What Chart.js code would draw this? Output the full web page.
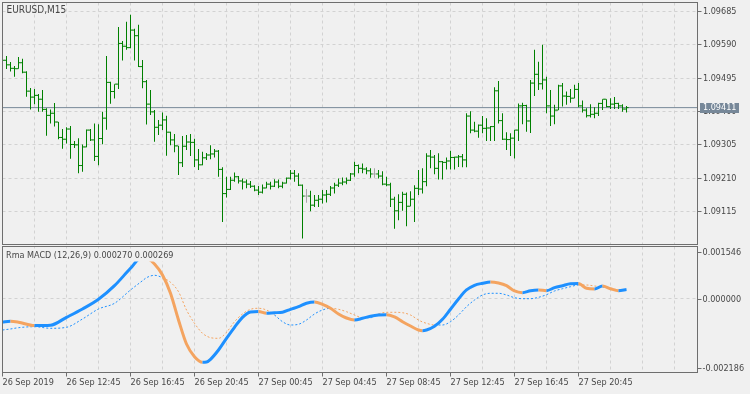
<!DOCTYPE html>
<html><head><meta charset="utf-8">
<script src="https://cdn.jsdelivr.net/npm/chart.js@4.4.1/dist/chart.umd.min.js"></script>
<style>
html,body{margin:0;padding:0;background:#f0f0f0;}
#wrap{position:relative;width:750px;height:394px;overflow:hidden;background:#f0f0f0;}
canvas{position:absolute;left:0;}
#c1{top:0}
#c2{top:245px}
</style></head><body>
<div id="wrap"><canvas id="c1" width="750" height="245"></canvas><canvas id="c2" width="750" height="149"></canvas></div>
<script>
// ---------- data ----------
const symbolTitle = 'EURUSD,M15';
const indicatorName = 'Rma MACD (12,26,9)';
const timeLabels = ['26 Sep 2019','26 Sep 12:45','26 Sep 16:45','26 Sep 20:45','27 Sep 00:45','27 Sep 04:45','27 Sep 08:45','27 Sep 12:45','27 Sep 16:45','27 Sep 20:45'];
const priceTicks = [1.09115, 1.09210, 1.09305, 1.09400, 1.09495, 1.09590, 1.09685];
const macdAxisTicks = [0.001546, 0.000000, -0.002186];

const opens = [1.09553,1.09546,1.09533,1.09523,1.09522,1.09539,1.09512,1.09458,1.09441,1.09446,
1.09435,1.09406,1.09389,1.09395,1.09370,1.09326,1.09321,1.09350,1.09306,1.09305,
1.09246,1.09299,1.09347,1.09319,1.09272,1.09323,1.09381,1.09483,1.09457,1.09478,
1.09594,1.09586,1.09582,1.09632,1.09616,1.09528,1.09485,1.09421,1.09399,1.09355,
1.09361,1.09376,1.09341,1.09319,1.09302,1.09254,1.09301,1.09313,1.09312,1.09262,
1.09248,1.09268,1.09276,1.09279,1.09287,1.09235,1.09166,1.09178,1.09204,1.09214,
1.09202,1.09199,1.09193,1.09187,1.09176,1.09170,1.09182,1.09193,1.09187,1.09199,
1.09187,1.09196,1.09210,1.09224,1.09216,1.09190,1.09159,1.09159,1.09133,1.09147,
1.09150,1.09162,1.09164,1.09182,1.09190,1.09196,1.09199,1.09204,1.09222,1.09246,
1.09238,1.09236,1.09231,1.09222,1.09222,1.09216,1.09193,1.09191,1.09150,1.09117,
1.09141,1.09164,1.09130,1.09150,1.09181,1.09179,1.09200,1.09273,1.09270,1.09238,
1.09257,1.09255,1.09259,1.09269,1.09270,1.09271,1.09262,1.09387,1.09347,1.09344,
1.09361,1.09352,1.09353,1.09357,1.09459,1.09374,1.09321,1.09320,1.09324,1.09347,
1.09416,1.09417,1.09373,1.09481,1.09506,1.09479,1.09490,1.09416,1.09387,1.09404,
1.09473,1.09444,1.09443,1.09438,1.09463,1.09416,1.09404,1.09388,1.09392,1.09395,
1.09423,1.09435,1.09414,1.09421,1.09423,1.09416,1.09407];

const highs = [1.09561,1.09558,1.09541,1.09530,1.09555,1.09550,1.09515,1.09467,1.09464,1.09450,
1.09461,1.09409,1.09406,1.09424,1.09370,1.09350,1.09355,1.09359,1.09316,1.09324,
1.09306,1.09349,1.09350,1.09366,1.09364,1.09399,1.09558,1.09485,1.09478,1.09641,
1.09601,1.09656,1.09676,1.09636,1.09647,1.09547,1.09490,1.09461,1.09404,1.09376,
1.09397,1.09388,1.09342,1.09336,1.09302,1.09330,1.09333,1.09336,1.09322,1.09293,
1.09285,1.09282,1.09304,1.09293,1.09290,1.09241,1.09214,1.09214,1.09226,1.09216,
1.09209,1.09206,1.09202,1.09190,1.09188,1.09192,1.09200,1.09200,1.09207,1.09206,
1.09200,1.09212,1.09233,1.09233,1.09224,1.09192,1.09179,1.09174,1.09162,1.09162,
1.09176,1.09176,1.09188,1.09197,1.09209,1.09212,1.09212,1.09225,1.09257,1.09249,
1.09252,1.09241,1.09238,1.09238,1.09233,1.09230,1.09214,1.09197,1.09157,1.09164,
1.09171,1.09169,1.09173,1.09190,1.09233,1.09238,1.09281,1.09290,1.09276,1.09281,
1.09259,1.09269,1.09288,1.09271,1.09276,1.09279,1.09395,1.09401,1.09371,1.09363,
1.09387,1.09381,1.09359,1.09469,1.09487,1.09395,1.09341,1.09338,1.09347,1.09423,
1.09425,1.09419,1.09490,1.09576,1.09542,1.09590,1.09499,1.09461,1.09419,1.09476,
1.09481,1.09457,1.09464,1.09476,1.09481,1.09431,1.09409,1.09421,1.09412,1.09425,
1.09435,1.09435,1.09438,1.09441,1.09425,1.09421,1.09416];

const lows = [1.09539,1.09521,1.09514,1.09499,1.09522,1.09509,1.09442,1.09406,1.09421,1.09399,
1.09399,1.09331,1.09366,1.09357,1.09321,1.09294,1.09309,1.09265,1.09296,1.09224,
1.09228,1.09298,1.09316,1.09259,1.09247,1.09307,1.09348,1.09422,1.09437,1.09464,
1.09545,1.09576,1.09580,1.09545,1.09527,1.09466,1.09363,1.09390,1.09314,1.09333,
1.09347,1.09274,1.09304,1.09284,1.09219,1.09242,1.09290,1.09273,1.09242,1.09233,
1.09247,1.09262,1.09264,1.09269,1.09214,1.09085,1.09155,1.09176,1.09200,1.09195,
1.09178,1.09181,1.09182,1.09173,1.09162,1.09166,1.09181,1.09178,1.09185,1.09181,
1.09181,1.09195,1.09206,1.09200,1.09188,1.09038,1.09140,1.09116,1.09128,1.09128,
1.09138,1.09141,1.09159,1.09166,1.09185,1.09190,1.09193,1.09202,1.09214,1.09224,
1.09224,1.09221,1.09211,1.09211,1.09209,1.09190,1.09187,1.09128,1.09066,1.09090,
1.09117,1.09073,1.09130,1.09085,1.09162,1.09166,1.09187,1.09238,1.09221,1.09206,
1.09206,1.09235,1.09235,1.09235,1.09242,1.09241,1.09241,1.09338,1.09341,1.09325,
1.09338,1.09316,1.09316,1.09316,1.09366,1.09319,1.09290,1.09273,1.09266,1.09316,
1.09364,1.09342,1.09339,1.09444,1.09461,1.09463,1.09395,1.09359,1.09364,1.09404,
1.09414,1.09419,1.09425,1.09438,1.09412,1.09397,1.09383,1.09383,1.09381,1.09387,
1.09404,1.09412,1.09407,1.09407,1.09407,1.09399,1.09397];

const closes = [1.09546,1.09533,1.09523,1.09522,1.09539,1.09512,1.09458,1.09441,1.09446,1.09435,
1.09406,1.09389,1.09395,1.09370,1.09326,1.09321,1.09350,1.09306,1.09305,1.09246,
1.09299,1.09347,1.09319,1.09272,1.09323,1.09381,1.09483,1.09457,1.09478,1.09594,
1.09586,1.09582,1.09632,1.09616,1.09528,1.09485,1.09421,1.09399,1.09355,1.09361,
1.09376,1.09341,1.09319,1.09302,1.09254,1.09301,1.09313,1.09312,1.09262,1.09248,
1.09268,1.09276,1.09279,1.09287,1.09235,1.09166,1.09178,1.09204,1.09214,1.09202,
1.09199,1.09193,1.09187,1.09176,1.09170,1.09182,1.09193,1.09187,1.09199,1.09187,
1.09196,1.09210,1.09224,1.09216,1.09190,1.09159,1.09159,1.09133,1.09147,1.09150,
1.09162,1.09164,1.09182,1.09190,1.09196,1.09199,1.09204,1.09222,1.09246,1.09238,
1.09236,1.09231,1.09222,1.09222,1.09216,1.09193,1.09191,1.09150,1.09117,1.09141,
1.09164,1.09130,1.09150,1.09181,1.09179,1.09200,1.09273,1.09270,1.09238,1.09257,
1.09255,1.09259,1.09269,1.09270,1.09271,1.09262,1.09387,1.09347,1.09344,1.09361,
1.09352,1.09353,1.09357,1.09459,1.09374,1.09321,1.09320,1.09324,1.09347,1.09416,
1.09417,1.09373,1.09481,1.09506,1.09479,1.09490,1.09416,1.09387,1.09404,1.09473,
1.09444,1.09443,1.09438,1.09463,1.09416,1.09404,1.09388,1.09392,1.09395,1.09423,
1.09435,1.09414,1.09421,1.09423,1.09416,1.09407,1.09411];

// MACD / signal read at these bar indices
const macdBars = [0,2,4,8,12,16,20,24,28,32,35,36,38,40,42,44,46,48,50,51,52,54,56,58,60,62,64,66,68,70,72,74,76,78,80,82,84,86,88,90,92,94,96,98,100,102,104,105,106,108,110,112,114,116,118,120,122,124,126,128,130,132,134,136,138,140,142,144,146,148,150,152,154,156];
const macdValues = [-0.000690,-0.000669,-0.000696,-0.000794,-0.000785,-0.000551,-0.000305,-0.000018,0.000385,0.000900,
0.001244,0.001214,0.001028,0.000702,0.000160,-0.000631,-0.001342,-0.001718,-0.001885,-0.001878,
-0.001795,-0.001520,-0.001173,-0.000847,-0.000551,-0.000394,-0.000380,-0.000430,-0.000415,-0.000400,
-0.000314,-0.000237,-0.000136,-0.000098,-0.000166,-0.000284,-0.000453,-0.000572,-0.000631,-0.000581,
-0.000521,-0.000483,-0.000474,-0.000542,-0.000681,-0.000809,-0.000927,-0.000948,-0.000927,-0.000818,
-0.000610,-0.000314,-0.000009,0.000258,0.000397,0.000456,0.000495,0.000465,0.000385,0.000228,
0.000178,0.000237,0.000258,0.000237,0.000326,0.000385,0.000440,0.000448,0.000308,0.000287,
0.000376,0.000296,0.000237,0.000270];
const signalValues = [-0.000927,-0.000897,-0.000859,-0.000829,-0.000877,-0.000847,-0.000601,-0.000305,-0.000136,0.000258,
0.000533,0.000622,0.000693,0.000622,0.000486,0.000207,-0.000335,-0.000729,-0.001025,-0.001105,
-0.001155,-0.001173,-0.000995,-0.000681,-0.000453,-0.000314,-0.000284,-0.000335,-0.000483,-0.000681,
-0.000779,-0.000758,-0.000631,-0.000453,-0.000335,-0.000284,-0.000314,-0.000385,-0.000483,-0.000563,
-0.000563,-0.000453,-0.000403,-0.000403,-0.000415,-0.000483,-0.000631,-0.000690,-0.000729,-0.000779,
-0.000779,-0.000681,-0.000483,-0.000237,-0.000039,0.000110,0.000160,0.000160,0.000110,0.000030,
0.000000,0.000000,0.000041,0.000118,0.000228,0.000296,0.000355,0.000406,0.000406,0.000376,
0.000347,0.000308,0.000267,0.000269];

// ---------- styling ----------
const FONT = '"DejaVu Sans Condensed","DejaVu Sans",sans-serif';
const TXT = '#474747', FRAME = '#6e6e6e', GRID = '#d2d2d2', BG = '#f0f0f0';
const GREEN = '#008000', DOJI = '#a8a8a8', BLUE = '#1e90ff', ORANGE = '#f4a460', BID = '#778899';
Chart.defaults.font.family = FONT;
Chart.defaults.font.size = 9;
Chart.defaults.color = TXT;

const X_MAX = 173.75;            // visible bar slots incl. right shift
const gridBars = [];
for (let b = 0; b <= 168; b += 8) gridBars.push(b);
const lastClose = closes[closes.length - 1];
const barColor = i => (opens[i] === closes[i] ? DOJI : GREEN);
const noPad = s => { s.paddingTop = 0; s.paddingBottom = 0; s.paddingLeft = 0; s.paddingRight = 0; };

function drawFrame(chart) {
  const {ctx, chartArea: a} = chart;
  ctx.save();
  ctx.strokeStyle = FRAME; ctx.lineWidth = 1;
  ctx.strokeRect(a.left, a.top, a.right - a.left, a.bottom - a.top);
  ctx.restore();
}

const topPlugin = {
  id: 'topDeco',
  afterDraw(chart) {
    const {ctx, chartArea: a, scales} = chart;
    drawFrame(chart);
    ctx.save();
    ctx.font = '10px ' + FONT;
    ctx.fillStyle = TXT; ctx.textBaseline = 'middle'; ctx.textAlign = 'left';
    ctx.fillText(symbolTitle, 6.5, 10);
    // bid price box
    const py = scales.y.getPixelForValue(lastClose);
    const top = Math.round(py) - 5;
    ctx.fillStyle = BID;
    ctx.fillRect(a.right + 2.5, top, 39, 10);
    ctx.fillStyle = '#ffffff';
    ctx.font = '9px ' + FONT;
    ctx.fillText(lastClose.toFixed(5), a.right + 5.5, top + 5);
    ctx.restore();
  }
};

new Chart(document.getElementById('c1'), {
  type: 'bar',
  data: { datasets: [
    { type: 'bar', data: highs.map((h, i) => ({x: i, y: [lows[i], h]})),
      backgroundColor: c => barColor(c.dataIndex), barThickness: 1, inflateAmount: 0,
      borderWidth: 0, grouped: false, order: 2 },
    { type: 'line', data: opens.map((o, i) => ({x: i - 0.3, y: o})), showLine: false,
      pointStyle: 'line', pointRadius: 1, pointBorderWidth: 1,
      pointBorderColor: c => barColor(c.dataIndex), order: 1 },
    { type: 'line', data: closes.map((v, i) => ({x: i + 0.3, y: v})), showLine: false,
      pointStyle: 'line', pointRadius: 1, pointBorderWidth: 1,
      pointBorderColor: c => barColor(c.dataIndex), order: 1 },
    { type: 'line', data: [{x: 0, y: lastClose}, {x: X_MAX, y: lastClose}],
      borderColor: BID, borderWidth: 1, pointRadius: 0, order: 5 }
  ]},
  options: {
    responsive: false, animation: false, events: [],
    layout: { autoPadding: false, padding: {left: 2.5, top: 2.5, right: 0, bottom: 0.5} },
    plugins: { legend: {display: false}, tooltip: {enabled: false} },
    scales: {
      x: { type: 'linear', min: 0, max: X_MAX, offset: false,
        afterBuildTicks: s => { s.ticks = gridBars.map(v => ({value: v})); },
        ticks: { display: false },
        grid: { color: GRID, drawTicks: false, offset: false },
        border: { display: false, dash: [3, 3] },
        afterFit: s => { s.height = 0; noPad(s); } },
      y: { type: 'linear', position: 'right', min: 1.0902095, max: 1.0971065,
        afterBuildTicks: s => { s.ticks = priceTicks.map(v => ({value: v})); },
        ticks: { padding: 1.5, autoSkip: false, callback: v => Number(v).toFixed(5) },
        grid: { color: GRID, drawTicks: true, tickLength: 4, tickColor: FRAME, tickBorderDash: [] },
        border: { display: false, dash: [3, 3] },
        afterFit: s => { s.width = 52.5; noPad(s); } }
    }
  },
  plugins: [topPlugin]
});

const bottomPlugin = {
  id: 'botDeco',
  afterDraw(chart) {
    const {ctx, chartArea: a, scales} = chart;
    drawFrame(chart);
    ctx.save();
    ctx.font = '9px ' + FONT;
    ctx.textBaseline = 'middle'; ctx.textAlign = 'left';
    const label = indicatorName + ' ' + macdValues[macdValues.length - 1].toFixed(6) + ' ' +
                  signalValues[signalValues.length - 1].toFixed(6);
    const w = ctx.measureText(label).width;
    ctx.fillStyle = BG;
    ctx.fillRect(a.left + 1, a.top + 2, w + 5, 13);
    ctx.fillStyle = TXT;
    ctx.fillText(label, a.left + 3.5, a.top + 9.5);
    // right axis labels
    macdAxisTicks.forEach(v => {
      let py = scales.y.getPixelForValue(v);
      py = Math.min(Math.max(py, a.top + 5), a.bottom - 5);
      py = Math.round(py) + 0.5;
      ctx.strokeStyle = FRAME; ctx.lineWidth = 1;
      ctx.beginPath(); ctx.moveTo(a.right, py); ctx.lineTo(a.right + 4, py); ctx.stroke();
      ctx.fillStyle = TXT;
      ctx.fillText(v.toFixed(6), a.right + 5, py);
    });
    ctx.restore();
  }
};

new Chart(document.getElementById('c2'), {
  type: 'line',
  data: { datasets: [
    { data: macdBars.map((b, k) => ({x: b, y: macdValues[k]})), borderWidth: 3, borderColor: BLUE,
      pointRadius: 0, cubicInterpolationMode: 'monotone', borderJoinStyle: 'round', order: 0,
      segment: { borderColor: c => (c.p1.parsed.y >= c.p0.parsed.y ? BLUE : ORANGE) } },
    { data: macdBars.map((b, k) => ({x: b, y: signalValues[k]})), borderWidth: 1, borderColor: BLUE,
      borderDash: [2, 2], pointRadius: 0, cubicInterpolationMode: 'monotone', order: 1,
      segment: { borderColor: c => {
        const p = c.p0DataIndex, q = c.p1DataIndex;
        return (macdValues[p] + macdValues[q]) >= (signalValues[p] + signalValues[q]) ? BLUE : ORANGE;
      } } }
  ]},
  options: {
    responsive: false, animation: false, events: [],
    layout: { autoPadding: false, padding: {left: 2.5, top: 1.5, right: 0, bottom: 0} },
    plugins: { legend: {display: false}, tooltip: {enabled: false} },
    scales: {
      x: { type: 'linear', min: 0, max: X_MAX, offset: false,
        afterBuildTicks: s => { s.ticks = gridBars.map(v => ({value: v})); },
        ticks: { autoSkip: false, maxRotation: 0, minRotation: 0, align: 'start', padding: 1,
          callback: v => (v % 16 === 0 && v / 16 < timeLabels.length) ? timeLabels[v / 16] : '' },
        grid: { color: GRID, drawTicks: true, tickLength: 4, tickBorderDash: [],
          tickColor: c => (c.tick && c.tick.value % 16 === 0 && c.tick.value / 16 < timeLabels.length) ? FRAME : 'rgba(0,0,0,0)' },
        border: { display: false, dash: [3, 3] },
        afterFit: s => { s.height = 21.5; noPad(s); } },
      y: { type: 'linear', position: 'right', min: -0.002186, max: 0.001546,
        afterBuildTicks: s => { s.ticks = [{value: 0}]; },
        ticks: { display: false },
        grid: { color: GRID, drawTicks: false },
        border: { display: false, dash: [3, 3] },
        afterFit: s => { s.width = 52.5; noPad(s); } }
    }
  },
  plugins: [bottomPlugin]
});
</script>
</body></html>
